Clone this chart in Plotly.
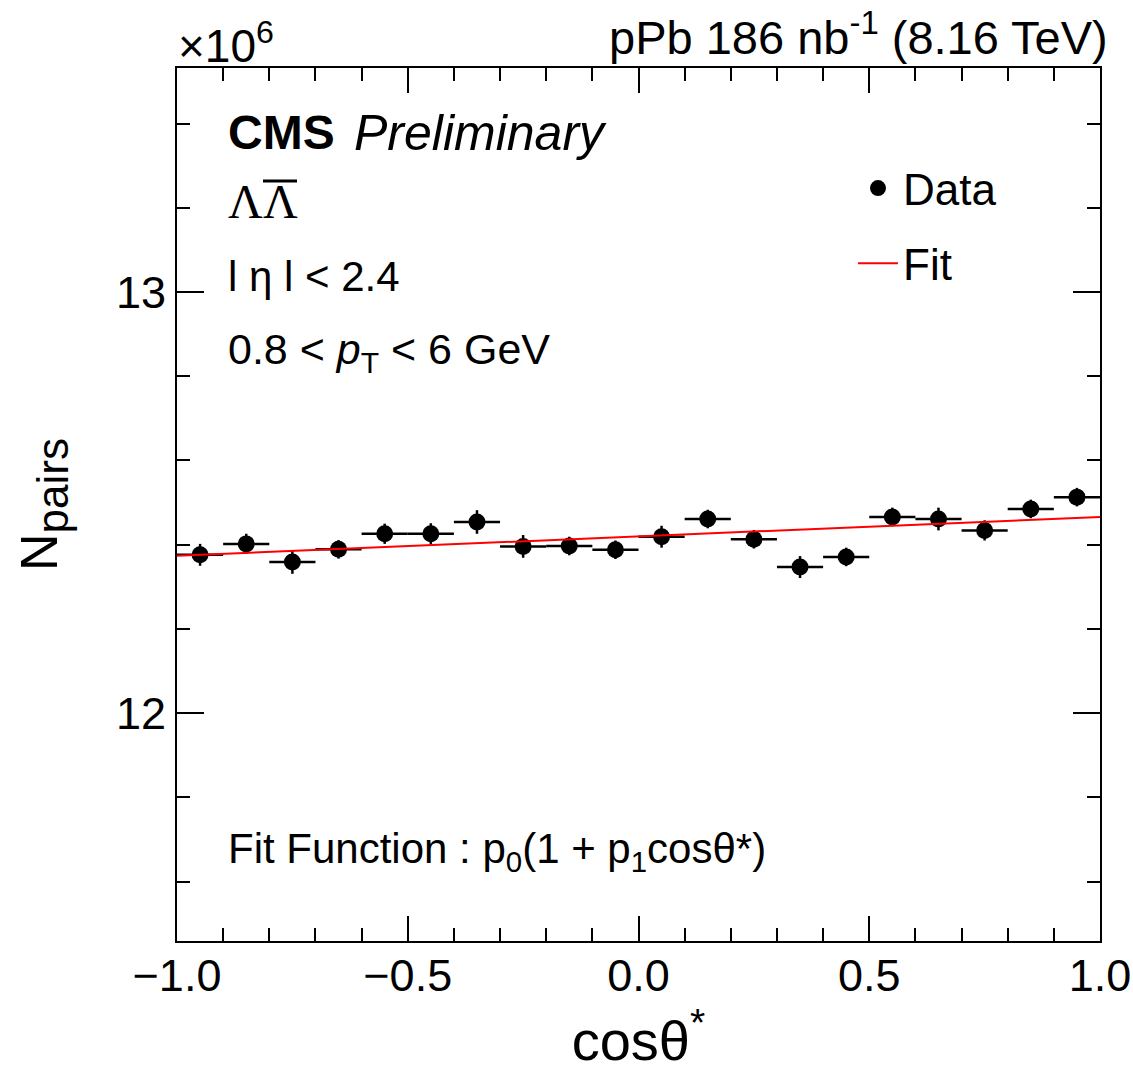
import plotly.graph_objects as go

# Lambda-antiLambda pair yield vs cos(theta*), pPb 8.16 TeV
bin_centers = [-0.95, -0.85, -0.75, -0.65, -0.55, -0.45, -0.35, -0.25, -0.15, -0.05,
               0.05, 0.15, 0.25, 0.35, 0.45, 0.55, 0.65, 0.75, 0.85, 0.95]
bin_half_width = [0.05] * 20
# N_pairs in units of 10^6
n_pairs = [12.376, 12.402, 12.359, 12.389, 12.426, 12.426, 12.454, 12.396, 12.397, 12.388,
           12.419, 12.461, 12.413, 12.347, 12.371, 12.466, 12.461, 12.434, 12.485, 12.513]
n_pairs_err = [0.026, 0.024, 0.028, 0.022, 0.024, 0.025, 0.028, 0.027, 0.022, 0.022,
               0.026, 0.022, 0.022, 0.026, 0.022, 0.022, 0.027, 0.024, 0.022, 0.022]

# fit p0 (1 + p1 cos theta*)
p0 = 12.4198
p1 = 0.00372
fit_x = [-1.0, 1.0]
fit_y = [p0 * (1 + p1 * x) for x in fit_x]

x_ticks = [-1.0, -0.5, 0.0, 0.5, 1.0]
x_tick_text = ["\u22121.0", "\u22120.5", "0.0", "0.5", "1.0"]
y_ticks = [12, 13]

FONT = "Liberation Sans"
L, R, T, B = 177, 33, 68, 131
W, H = 1133, 1072
PW, PH = W - L - R, H - T - B


def xp(px):
    return (px - L) / PW


def yp(py):
    return (H - B - py) / PH


fig = go.Figure()
fig.add_trace(go.Scatter(
    x=bin_centers, y=n_pairs, mode="markers", name="Data",
    marker=dict(symbol="circle", size=17, color="black"),
    error_x=dict(type="data", array=bin_half_width, color="black", thickness=2.5, width=0),
    error_y=dict(type="data", array=n_pairs_err, color="black", thickness=2.5, width=0),
    legendgroup="data",
))
fig.add_trace(go.Scatter(
    x=fit_x, y=fit_y, mode="lines", name="Fit",
    line=dict(color="red", width=2),
    legendgroup="fit",
))

axis_common = dict(
    showline=True, linecolor="black", linewidth=2, mirror="ticks",
    ticks="inside", tickcolor="black", tickwidth=1.5,
    showgrid=False, zeroline=False,
    tickfont=dict(family=FONT, size=45, color="black"),
)

fig.update_xaxes(
    range=[-1, 1], tickvals=x_ticks, ticktext=x_tick_text,
    ticklen=25, ticklabelstandoff=-6,
    minor=dict(dtick=0.1, tick0=0, ticklen=13, ticks="inside", tickcolor="black", tickwidth=1.5),
    title=dict(text="cos\u03b8<sup>*</sup>", font=dict(family=FONT, size=56, color="black"), standoff=50),
    **axis_common,
)
fig.update_yaxes(
    range=[11.459, 13.532], tickvals=y_ticks,
    ticklen=27,
    minor=dict(dtick=0.2, tick0=0, ticklen=13, ticks="inside", tickcolor="black", tickwidth=1.5),
    title=dict(text="N<sub><span style='font-size:44px'>pairs</span></sub>",
               font=dict(family=FONT, size=52, color="black"), standoff=42),
    **axis_common,
)

annotations = [
    dict(text="\u00d710<sup>6</sup>", x=xp(176), y=yp(43), xanchor="left", yanchor="middle",
         font=dict(family=FONT, size=46)),
    dict(text="pPb 186 nb<sup>-1</sup> (8.16 TeV)", x=xp(1110), y=yp(34), xanchor="right",
         yanchor="middle", font=dict(family=FONT, size=47)),
    dict(text="<b>CMS</b>", x=xp(226), y=yp(133), xanchor="left", yanchor="middle",
         font=dict(family=FONT, size=48)),
    dict(text="<i>Preliminary</i>", x=xp(352), y=yp(133), xanchor="left", yanchor="middle",
         font=dict(family=FONT, size=50)),
    dict(text="\u039b", x=xp(226), y=yp(201), xanchor="left", yanchor="middle",
         font=dict(family="Liberation Serif", size=48)),
    dict(text="\u039b", x=xp(261), y=yp(201), xanchor="left", yanchor="middle",
         font=dict(family="Liberation Serif", size=48)),
    dict(text="l \u03b7 l < 2.4", x=xp(226), y=yp(276), xanchor="left", yanchor="middle",
         font=dict(family=FONT, size=42)),
    dict(text="0.8 < <i>p</i><sub>T</sub> < 6 GeV", x=xp(226), y=yp(352), xanchor="left",
         yanchor="middle", font=dict(family=FONT, size=43)),
    dict(text="Fit Function : p<sub>0</sub>(1 + p<sub>1</sub>cos\u03b8*)", x=xp(226), y=yp(851),
         xanchor="left", yanchor="middle", font=dict(family=FONT, size=42)),
]
for a in annotations:
    a.update(xref="paper", yref="paper", showarrow=False)
    a["font"]["color"] = "black"

# bar over the second Lambda (anti-particle)
shapes = [dict(type="line", xref="paper", yref="paper", x0=xp(263), x1=xp(297),
               y0=yp(181), y1=yp(181), line=dict(color="black", width=3))]

fig.update_layout(
    width=W, height=H,
    margin=dict(l=L, r=R, t=T, b=B, autoexpand=False),
    paper_bgcolor="white", plot_bgcolor="white",
    showlegend=True,
    legend=dict(x=xp(853), y=yp(153), xanchor="left", yanchor="top",
                bgcolor="rgba(0,0,0,0)", font=dict(family=FONT, size=44, color="black"),
                tracegroupgap=15, itemwidth=40),
    annotations=annotations,
    shapes=shapes,
)

fig.write_html("out.html")
